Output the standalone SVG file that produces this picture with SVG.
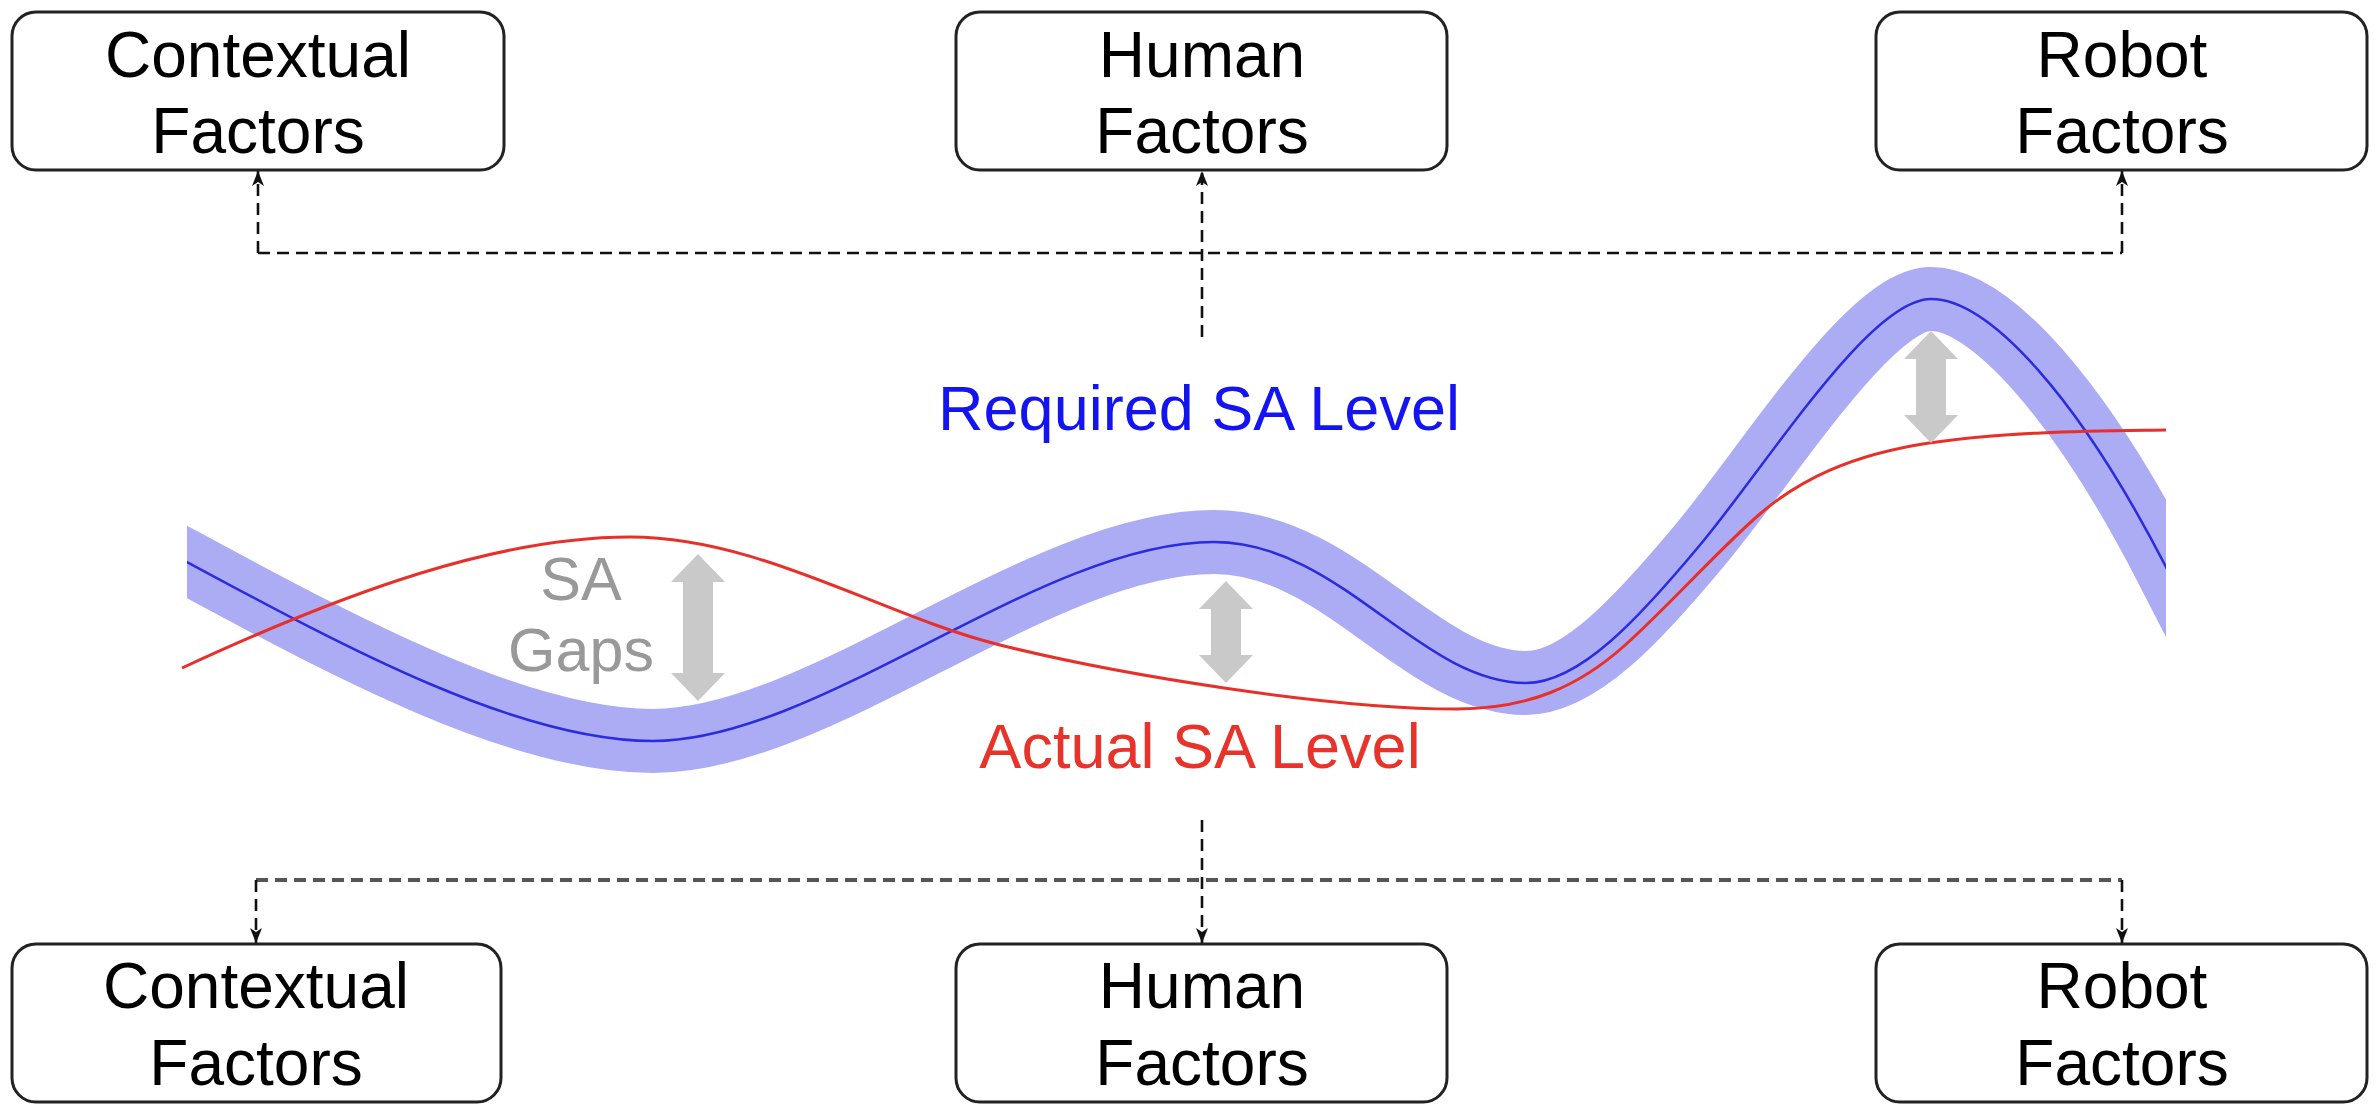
<svg xmlns="http://www.w3.org/2000/svg" width="2380" height="1112" viewBox="0 0 2380 1112">
<style>
.box{fill:#fff;stroke:#222;stroke-width:3}
.t{font-family:"Liberation Sans",Arial,sans-serif;font-size:64px;fill:#000;text-anchor:middle}
.dl{fill:none;stroke:#111;stroke-width:2.6;stroke-dasharray:12 7}
.dg{fill:none;stroke:#555;stroke-width:4;stroke-dasharray:12 7}
.gap{fill:#c9c9c9}
</style>
<defs>
<marker id="ah" markerUnits="userSpaceOnUse" markerWidth="16" markerHeight="12" refX="15" refY="6" orient="auto">
<path d="M0,0 L15,6 L0,12 L4,6 z" fill="#111"/>
</marker>
<clipPath id="clip"><rect x="187" y="0" width="1979" height="1112"/></clipPath>
</defs>
<rect width="2380" height="1112" fill="#fff"/>

<g id="curves">
<g clip-path="url(#clip)">
<path id="req-band" d="M127,530 L187,562 C350,650 520,741 653,741 C820,741 1040,542 1214,542 C1340,542 1420,683 1526,683 C1580,683 1640,617 1700,545 C1770,461 1870,299 1931,299 C1990,299 2080,400 2166,567 L2200,633" fill="none" stroke="#abacf3" stroke-width="64"/>
<path id="req-line" d="M127,530 L187,562 C350,650 520,741 653,741 C820,741 1040,542 1214,542 C1340,542 1420,683 1526,683 C1580,683 1640,617 1700,545 C1770,461 1870,299 1931,299 C1990,299 2080,400 2166,567 L2200,633" fill="none" stroke="#2b2be0" stroke-width="2.5"/>
</g>
<path id="act-line" d="M182,668 C350,590 500,537 630,537 C760,537 880,615 1000,645 C1120,675 1330,709 1457,709 C1530,709 1580,685 1623,647 C1666,609 1720,548 1761,513 C1800,480 1850,455 1929,443 C2010,431 2100,431 2166,430" fill="none" stroke="#e8302a" stroke-width="3"/>
</g>

<g id="gaps">
<polygon class="gap" points="698,554 725,582 713,582 713,673 725,673 698,701 671,673 683,673 683,582 671,582"/>
<polygon class="gap" points="1226,581 1253,609 1241,609 1241,655 1253,655 1226,683 1199,655 1211,655 1211,609 1199,609"/>
<polygon class="gap" points="1931,331 1958,359 1946,359 1946,415 1958,415 1931,443 1904,415 1916,415 1916,359 1904,359"/>
</g>

<g id="labels">
<text class="t" x="1199" y="430" style="fill:#1414f0;font-size:63px">Required SA Level</text>
<text class="t" x="1200" y="768" style="fill:#e8332a;font-size:63px">Actual SA Level</text>
<text class="t" x="581" y="600" style="fill:#999;font-size:61px">SA</text>
<text class="t" x="581" y="671" style="fill:#999;font-size:61px">Gaps</text>
</g>

<g id="connectors">
<path class="dl" d="M258,253 L2122,253"/>
<path class="dl" d="M258,253 L258,171" marker-end="url(#ah)"/>
<path class="dl" d="M1202,337 L1202,171" marker-end="url(#ah)"/>
<path class="dl" d="M2122,253 L2122,171" marker-end="url(#ah)"/>
<path class="dg" d="M256,880 L2122,880"/>
<path class="dl" d="M1202,820 L1202,943" marker-end="url(#ah)"/>
<path class="dl" d="M256,880 L256,943" marker-end="url(#ah)"/>
<path class="dl" d="M2122,880 L2122,943" marker-end="url(#ah)"/>
</g>

<g id="top-contextual">
<rect class="box" x="12" y="12" width="492" height="158" rx="24"/>
<text class="t" x="258" y="77">Contextual</text>
<text class="t" x="258" y="153">Factors</text>
</g>
<g id="top-human">
<rect class="box" x="956" y="12" width="491" height="158" rx="24"/>
<text class="t" x="1202" y="77">Human</text>
<text class="t" x="1202" y="153">Factors</text>
</g>
<g id="top-robot">
<rect class="box" x="1876" y="12" width="491" height="158" rx="24"/>
<text class="t" x="2122" y="77">Robot</text>
<text class="t" x="2122" y="153">Factors</text>
</g>
<g id="bottom-contextual">
<rect class="box" x="12" y="944" width="489" height="158" rx="24"/>
<text class="t" x="256" y="1008">Contextual</text>
<text class="t" x="256" y="1085">Factors</text>
</g>
<g id="bottom-human">
<rect class="box" x="956" y="944" width="491" height="158" rx="24"/>
<text class="t" x="1202" y="1008">Human</text>
<text class="t" x="1202" y="1085">Factors</text>
</g>
<g id="bottom-robot">
<rect class="box" x="1876" y="944" width="491" height="158" rx="24"/>
<text class="t" x="2122" y="1008">Robot</text>
<text class="t" x="2122" y="1085">Factors</text>
</g>
</svg>
